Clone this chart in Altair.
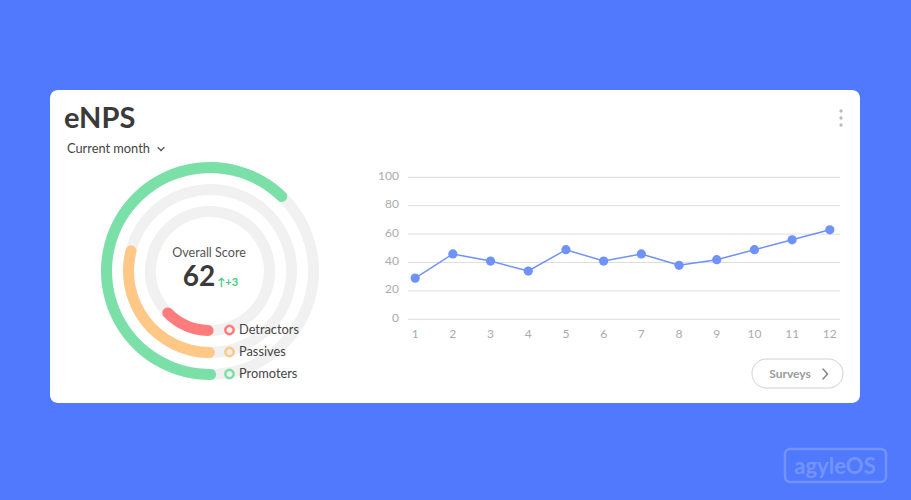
import altair as alt
import pandas as pd

# ---- data ----
months = list(range(1, 13))
scores = [29, 46, 41, 34, 49, 41, 46, 38, 42, 49, 56, 63]
y_ticks = [0, 20, 40, 60, 80, 100]
groups = ["Detractors", "Passives", "Promoters"]
shares = [15, 31, 64]
group_colors = ["#FF7C7C", "#FFC887", "#7BE0A8"]
overall_score = "62"
score_delta = "↑+3"
title_text = "eNPS"
period_text = "Current month"
button_text = "Surveys"
logo_text = "agyleOS"

FONT = "Lato"
BLUE_BG = "#5079FE"
LINE_COLOR = "#6E92F8"

one = pd.DataFrame({"a": [0]})
line_df = pd.DataFrame({"month": months, "score": scores})
tick_df = pd.DataFrame({"v": y_ticks, "lab": [str(v) for v in y_ticks]})
xlab_df = pd.DataFrame({"month": months, "lab": [str(m) for m in months]})

xs = alt.Scale(domain=[0.81, 12.27], range=[408, 840])
ys = alt.Scale(domain=[0, 100], range=[319.3, 177.3])


def txt(t, x, y, **kw):
    return alt.Chart(pd.DataFrame({"t": [t]})).mark_text(font=FONT, **kw).encode(
        text="t:N", x=alt.value(x), y=alt.value(y))


def rule(x1, y1, x2, y2, color, w):
    return alt.Chart(one).mark_rule(color=color, strokeWidth=w, strokeCap="round").encode(
        x=alt.value(x1), y=alt.value(y1), x2=alt.value(x2), y2=alt.value(y2))


layers = []
# card
layers.append(alt.Chart(one).mark_rect(fill="white", cornerRadius=8).encode(
    x=alt.value(50), x2=alt.value(860), y=alt.value(90), y2=alt.value(403)))

# header
layers.append(txt(title_text, 64, 128, fontSize=29, fontWeight="bold", color="#3A3A3A",
                  align="left", baseline="alphabetic"))
layers.append(txt(period_text, 67, 149, fontSize=12.8, color="#444444", align="left", baseline="middle"))
layers.append(rule(158, 147.5, 161, 150.5, "#555555", 1.2))
layers.append(rule(161, 150.5, 164, 147.5, "#555555", 1.2))
# menu dots
for yy in [111, 118, 125]:
    layers.append(alt.Chart(one).mark_circle(size=11, color="#BBBBBB", opacity=1).encode(
        x=alt.value(841), y=alt.value(yy)))

# rings
theta_scale = alt.Scale(domain=[0, 100], range=[3.0816, 3.0816 + 6.2832])
ring_df = pd.DataFrame({"group": groups, "share": shares, "full": [100] * 3})
radii = {"Detractors": (54, 65), "Passives": (76, 87), "Promoters": (98, 109)}
for g, c in zip(groups, group_colors):
    r_in, r_out = radii[g]
    base = alt.Chart(ring_df).transform_filter(alt.datum.group == g)
    layers.append(base.mark_arc(radius=r_out, radius2=r_in, color="#F1F1F1").encode(
        theta=alt.Theta("full:Q", scale=theta_scale),
        x=alt.value(210), y=alt.value(271)))
    layers.append(base.mark_arc(radius=r_out, radius2=r_in, color=c, cornerRadius=5.5).encode(
        theta=alt.Theta("share:Q", scale=theta_scale),
        x=alt.value(210), y=alt.value(271)))

# legend
for g, c, yy in zip(groups, group_colors, [330, 352, 374]):
    layers.append(alt.Chart(one).mark_point(shape="circle", filled=False, size=70,
                                            strokeWidth=2.5, color=c, opacity=1).encode(
        x=alt.value(229.5), y=alt.value(yy)))
    layers.append(txt(g, 239, yy, fontSize=12.8, color="#444444", align="left", baseline="middle"))

# center text
layers.append(txt("Overall Score", 209, 253, fontSize=12.6, color="#555555", baseline="middle"))
layers.append(txt(overall_score, 199, 278, fontSize=28, fontWeight="bold", color="#3A3A3A",
                  baseline="middle"))
layers.append(txt(score_delta, 217, 283, fontSize=11, fontWeight="bold", color="#3CCB7F",
                  align="left", baseline="middle"))

# line chart grid + labels
layers.append(alt.Chart(tick_df).mark_rule(color="#DDDDDD", strokeWidth=1).encode(
    y=alt.Y("v:Q", scale=ys, axis=None), x=alt.value(408), x2=alt.value(840)))
layers.append(alt.Chart(tick_df).mark_text(font=FONT, fontSize=12, color="#ABABAB",
                                           align="right", baseline="middle", dy=-1.5).encode(
    y=alt.Y("v:Q", scale=ys, axis=None), x=alt.value(399), text="lab:N"))
layers.append(alt.Chart(xlab_df).mark_text(font=FONT, fontSize=12, color="#ABABAB",
                                           baseline="middle").encode(
    x=alt.X("month:Q", scale=xs, axis=None), y=alt.value(333.5), text="lab:N"))
layers.append(alt.Chart(line_df).mark_line(color=LINE_COLOR, strokeWidth=1.5).encode(
    x=alt.X("month:Q", scale=xs, axis=None), y=alt.Y("score:Q", scale=ys, axis=None)))
layers.append(alt.Chart(line_df).mark_circle(color=LINE_COLOR, size=85, opacity=1).encode(
    x=alt.X("month:Q", scale=xs, axis=None), y=alt.Y("score:Q", scale=ys, axis=None)))

# button
layers.append(alt.Chart(one).mark_rect(fill="white", stroke="#D0D0D0", strokeWidth=1,
                                       cornerRadius=14.5).encode(
    x=alt.value(752), x2=alt.value(843), y=alt.value(359), y2=alt.value(388)))
layers.append(txt(button_text, 790, 374, fontSize=12, fontWeight="bold", color="#9A9A9A",
                  baseline="middle"))
layers.append(rule(823, 369, 827.5, 374, "#888888", 1.5))
layers.append(rule(827.5, 374, 823, 379, "#888888", 1.5))

# logo
layers.append(alt.Chart(one).mark_rect(fill=None, stroke="#7393FF", strokeWidth=2.5,
                                       cornerRadius=5, fillOpacity=0).encode(
    x=alt.value(785), x2=alt.value(886), y=alt.value(449), y2=alt.value(482)))
layers.append(txt(logo_text, 835, 467, fontSize=22, fontWeight="bold", color="#7393FF",
                  baseline="middle"))

chart = alt.layer(*layers).properties(
    width=911, height=500, background=BLUE_BG, padding=0, autosize="none"
).configure_view(stroke=None)

chart.save("out.html", embed_options={"renderer": "svg", "actions": False})
